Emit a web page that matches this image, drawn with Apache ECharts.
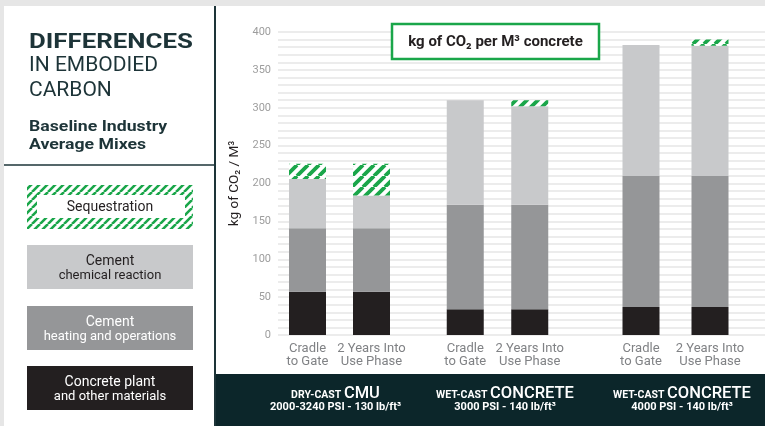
<!DOCTYPE html>
<html>
<head>
<meta charset="utf-8">
<script src="https://cdn.jsdelivr.net/npm/echarts@6/dist/echarts.min.js"></script>
<style>
html,body{margin:0;padding:0;background:#fff;}
#chart{width:765px;height:426px;}
</style>
</head>
<body>
<div id="chart"></div>
<script>
// ---- data ----
const categories = ['Cradle\nto Gate', '2 Years Into\nUse Phase'];
const groupPrefixes = ['DRY-CAST', 'WET-CAST', 'WET-CAST'];
const groupNames = ['CMU', 'CONCRETE', 'CONCRETE'];
const groupSpecs = ['2000-3240 PSI - 130 lb/ft³', '3000 PSI - 140 lb/ft³', '4000 PSI - 140 lb/ft³'];
const concretePlant  = [57, 57, 34, 34, 37, 37];
const cementHeating  = [84, 84, 138, 138, 173, 173];
const cementChemical = [65, 43, 138, 130, 173, 172];
const sequestration  = [20, 42, 0, 8, 0, 8];
const yMin = 0, yMax = 400, yInterval = 50;
const legendNames = ['Sequestration', 'Cement', 'Cement', 'Concrete plant'];
const legendSubs = ['', 'chemical reaction', 'heating and operations', 'and other materials'];

const GREEN = '#1aa64a';
const DARK = '#1d3438';
const BAND = '#0c262a';
const C_BLACK = '#231f20', C_MID = '#959698', C_LIGHT = '#c8c9cb';
const FONT = 'Roboto';

function hatch(size, lw) {
  const c = document.createElement('canvas');
  c.width = size; c.height = size;
  const ctx = c.getContext('2d');
  ctx.fillStyle = '#fff'; ctx.fillRect(0, 0, size, size);
  ctx.strokeStyle = GREEN; ctx.lineWidth = lw;
  ctx.beginPath();
  for (let k = -1; k <= 1; k++) {
    ctx.moveTo(k * size, size); ctx.lineTo(k * size + size, 0);
  }
  ctx.stroke();
  return c;
}
const barHatch = hatch(11, 3.8);
const boxHatch = hatch(8, 2.6);

const chart = echarts.init(document.getElementById('chart'));

const gridPos = [
  {left: 275.5, width: 128},
  {left: 433, width: 129},
  {left: 606.5, width: 138}
];
const TOP = 32, BOTTOM = 91;

const grids = [{left: 278, right: 0, top: TOP, bottom: BOTTOM}];
const xAxes = [{gridIndex: 0, type: 'category', show: false, data: ['a']}];
const yAxes = [{
  gridIndex: 0, type: 'value', min: yMin, max: yMax, interval: yInterval,
  name: 'kg of CO₂ / M³', nameLocation: 'middle', nameGap: 34,
  nameTextStyle: {fontFamily: FONT, fontSize: 13.5, color: C_BLACK},
  axisLine: {show: false}, axisTick: {show: false},
  axisLabel: {fontFamily: FONT, fontSize: 11, color: '#9d9d9d', margin: 7},
  splitLine: {show: true, lineStyle: {color: '#ececec', width: 2}},
  minorTick: {show: false, splitNumber: 5},
  minorSplitLine: {show: true, lineStyle: {color: '#ececec', width: 2}}
}];
const series = [];
gridPos.forEach((gp, g) => {
  const gi = g + 1;
  grids.push({left: gp.left, width: gp.width, top: TOP, bottom: BOTTOM});
  xAxes.push({
    gridIndex: gi, type: 'category', data: categories,
    axisLine: {show: false}, axisTick: {show: false},
    axisLabel: {fontFamily: FONT, fontSize: 13, lineHeight: 13, color: '#808285', margin: 7, interval: 0}
  });
  yAxes.push({gridIndex: gi, type: 'value', min: yMin, max: yMax, show: false, splitLine: {show: false}});
  const sl = a => a.slice(2 * g, 2 * g + 2);
  const layers = [
    [concretePlant, C_BLACK],
    [cementHeating, C_MID],
    [cementChemical, C_LIGHT],
    [sequestration, {image: barHatch, repeat: 'repeat'}]
  ];
  layers.forEach(([arr, col]) => {
    series.push({
      type: 'bar', xAxisIndex: gi, yAxisIndex: gi, stack: 's' + g,
      barWidth: 37, data: sl(arr), itemStyle: {color: col},
      silent: true, animation: false
    });
  });
});

// ---- graphics ----
const graphic = [];
graphic.push({type: 'rect', shape: {x: 0, y: 0, width: 765, height: 6}, style: {fill: '#e6e6e6'}, z: 10});
graphic.push({type: 'rect', shape: {x: 0, y: 0, width: 4, height: 426}, style: {fill: '#e6e6e6'}, z: 10});
graphic.push({type: 'rect', shape: {x: 216, y: 374, width: 549, height: 52}, style: {fill: BAND}, z: 10});
graphic.push({type: 'line', shape: {x1: 215, y1: 6, x2: 215, y2: 426}, style: {stroke: DARK, lineWidth: 2}, z: 10});
graphic.push({type: 'line', shape: {x1: 4, y1: 165, x2: 215, y2: 165}, style: {stroke: DARK, lineWidth: 1.5}, z: 10});

// title
graphic.push({type: 'text', x: 29, y: 43, scaleX: 1.23, z: 11, style: {text: 'DIFFERENCES', font: 'bold 21px ' + FONT, fill: DARK, verticalAlign: 'middle'}});
graphic.push({type: 'text', x: 29, y: 65.5, z: 11, style: {text: 'IN EMBODIED', font: '21px ' + FONT, fill: DARK, verticalAlign: 'middle'}});
graphic.push({type: 'text', x: 29, y: 90.5, z: 11, style: {text: 'CARBON', font: '21px ' + FONT, fill: DARK, verticalAlign: 'middle'}});
graphic.push({type: 'text', x: 29, y: 127.5, scaleX: 1.22, z: 11, style: {text: 'Baseline Industry', font: 'bold 14.5px ' + FONT, fill: DARK, verticalAlign: 'middle'}});
graphic.push({type: 'text', x: 29, y: 145, scaleX: 1.22, z: 11, style: {text: 'Average Mixes', font: 'bold 14.5px ' + FONT, fill: DARK, verticalAlign: 'middle'}});

// legend boxes
graphic.push({type: 'rect', shape: {x: 27, y: 185, width: 166, height: 44}, style: {fill: {image: boxHatch, repeat: 'repeat'}}, z: 10});
graphic.push({type: 'rect', shape: {x: 37, y: 195, width: 148, height: 23}, style: {fill: '#fff'}, z: 11});
graphic.push({type: 'text', x: 110, y: 207, z: 12, style: {text: legendNames[0], font: '14px ' + FONT, fill: C_BLACK, align: 'center', verticalAlign: 'middle'}});
const boxes = [[245, C_LIGHT, C_BLACK], [306, C_MID, '#fff'], [366, C_BLACK, '#fff']];
boxes.forEach(([y, fill, tc], i) => {
  graphic.push({type: 'rect', shape: {x: 27, y: y, width: 166, height: 44}, style: {fill: fill}, z: 10});
  graphic.push({type: 'text', x: 110, y: y + 16.5, z: 12, style: {text: legendNames[i + 1], font: '14px ' + FONT, fill: tc, align: 'center', verticalAlign: 'middle'}});
  graphic.push({type: 'text', x: 110, y: y + 30.5, z: 12, style: {text: legendSubs[i + 1], font: '13px ' + FONT, fill: tc, align: 'center', verticalAlign: 'middle'}});
});

// unit box
graphic.push({type: 'rect', shape: {x: 392, y: 24, width: 207, height: 35}, style: {fill: '#fff', stroke: GREEN, lineWidth: 2.5}, z: 10});
graphic.push({type: 'text', x: 495.5, y: 42, z: 11, style: {text: 'kg of CO₂ per M³ concrete', font: 'bold 15px ' + FONT, fill: C_BLACK, align: 'center', verticalAlign: 'middle'}});

// bottom labels
const labelCenters = [335.5, 505, 682];
labelCenters.forEach((cx, i) => {
  graphic.push({type: 'text', x: cx, y: 393, z: 11, style: {
    text: '{a|' + groupPrefixes[i] + ' }{b|' + groupNames[i] + '}',
    fill: '#fff', align: 'center', verticalAlign: 'middle',
    rich: {
      a: {fontFamily: FONT, fontSize: 10.5, fontWeight: 'bold', fill: '#fff', verticalAlign: 'bottom', lineHeight: 18, padding: [0, 0, 1, 0]},
      b: {fontFamily: FONT, fontSize: 16.5, fontWeight: 500, fill: '#fff', verticalAlign: 'bottom', lineHeight: 18}
    }
  }});
  graphic.push({type: 'text', x: cx, y: 407.5, z: 11, style: {text: groupSpecs[i], font: 'bold 11px ' + FONT, fill: '#fff', align: 'center', verticalAlign: 'middle'}});
});

chart.setOption({
  animation: false,
  grid: grids, xAxis: xAxes, yAxis: yAxes, series: series, graphic: graphic
});
</script>
</body>
</html>
